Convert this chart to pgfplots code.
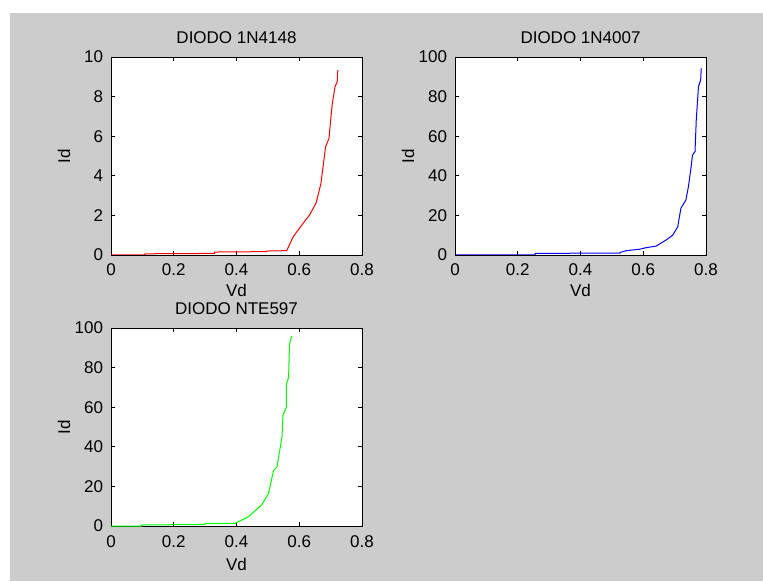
\documentclass[border=0pt]{standalone}
\usepackage{fontspec}
\setmainfont{Liberation Sans}
\usepackage{pgfplots}
\pgfplotsset{compat=1.18}
\definecolor{matgray}{RGB}{204,204,204}
\newcommand{\lbl}{\fontsize{17}{20}\selectfont}
\pgfplotsset{
  diode/.style={
    scale only axis, width=251pt, height=198pt,
    xmin=0, xmax=0.8, xtick={0,0.2,0.4,0.6,0.8},
    axis background/.style={fill=white},
    axis line style={black, line width=0.8pt},
    tick style={black, line width=0.8pt},
    tick align=inside, major tick length=4pt,
    xtick pos=both, ytick pos=both,
    /pgf/number format/assume math mode=true,
    /pgf/number format/fixed,
    tick label style={font=\lbl, text=black},
    xticklabel style={anchor=base, yshift=-21pt, inner sep=0pt},
    yticklabel style={anchor=east, xshift=-7.7pt, inner sep=0pt},
    every axis title/.style={at={(axis description cs:0.5,1)}, anchor=base, yshift=13.7pt, font=\lbl},
    every axis y label/.style={at={(axis description cs:-0.163,0.5)}, anchor=base, rotate=90, font=\lbl},
    xlabel={Vd}, ylabel={Id},
  },
}
\begin{document}
\begin{tikzpicture}[x=1pt,y=1pt]
\useasboundingbox (0,0) rectangle (763,581);
\fill[white] (0,0) rectangle (763,581);
\fill[matgray] (10,0) rectangle (763,568);
% Plot 1
\begin{axis}[diode, at={(111pt,326pt)}, anchor=south west,
  ymin=0, ymax=10, ytick={0,2,4,6,8,10},
  title={DIODO 1N4148},
  every axis x label/.style={at={(axis description cs:0.5,-0.212)}, anchor=base, font=\lbl}]
\addplot[red, line width=1pt] coordinates {
(0,0) (0.108,0) (0.108,0.06) (0.33,0.08) (0.33,0.15) (0.496,0.17) (0.496,0.2) (0.56,0.22)
(0.581,0.93) (0.616,1.68) (0.632,2.0) (0.653,2.6) (0.655,2.7) (0.669,3.6) (0.676,4.46)
(0.684,5.47) (0.695,5.9) (0.700,6.8) (0.705,7.6) (0.714,8.5) (0.721,8.75) (0.723,9.34)
};
\end{axis}
% Plot 2
\begin{axis}[diode, at={(455pt,326pt)}, anchor=south west,
  ymin=0, ymax=100, ytick={0,20,40,60,80,100},
  title={DIODO 1N4007},
  every axis x label/.style={at={(axis description cs:0.5,-0.212)}, anchor=base, font=\lbl}]
\addplot[blue, line width=1pt] coordinates {
(0,0) (0.255,0) (0.255,0.8) (0.526,1.0) (0.526,1.3) (0.547,2.2) (0.588,2.9) (0.609,3.7)
(0.641,4.5) (0.673,7.6) (0.694,10) (0.710,14.3) (0.720,23.6) (0.736,27.8) (0.744,34.5)
(0.752,43.8) (0.757,50.5) (0.765,52.2) (0.769,68.2) (0.776,85) (0.783,88.4) (0.785,94.3)
};
\end{axis}
% Plot 3
\begin{axis}[diode, at={(111pt,55pt)}, anchor=south west,
  ymin=0, ymax=100, ytick={0,20,40,60,80,100},
  title={DIODO NTE597},
  every axis x label/.style={at={(axis description cs:0.5,-0.227)}, anchor=base, font=\lbl}]
\addplot[green, line width=1pt] coordinates {
(0,0) (0.098,0) (0.098,0.5) (0.30,0.8) (0.30,1.3) (0.395,1.3) (0.438,4.7) (0.480,10.6)
(0.502,16.4) (0.518,28) (0.529,29.8) (0.545,44.9) (0.548,55.8) (0.559,60) (0.559,71.7)
(0.566,75) (0.569,91.8) (0.576,96)
};
\end{axis}
\end{tikzpicture}
\end{document}
